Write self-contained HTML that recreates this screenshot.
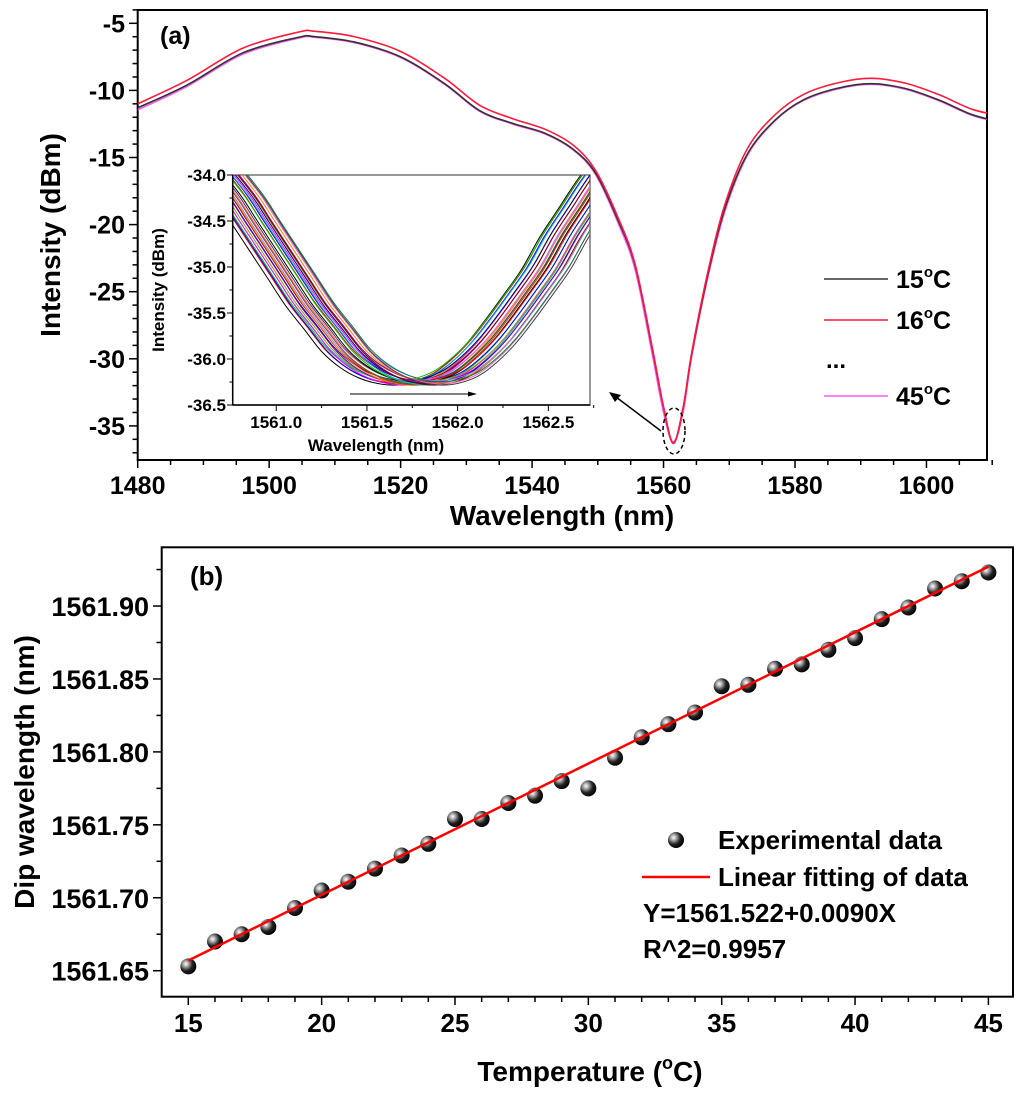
<!DOCTYPE html>
<html><head><meta charset="utf-8"><style>
html,body{margin:0;padding:0;background:#fff}
svg{display:block;font-family:"Liberation Sans",Arial,sans-serif;font-weight:bold}
</style></head><body>
<svg id="fig" width="1024" height="1096" viewBox="0 0 1024 1096" xmlns="http://www.w3.org/2000/svg">
<defs>
<radialGradient id="ball" cx="0.35" cy="0.35" r="0.7">
<stop offset="0" stop-color="#fff"/><stop offset="0.25" stop-color="#aaa"/><stop offset="0.6" stop-color="#222"/><stop offset="1" stop-color="#000"/>
</radialGradient>
<clipPath id="clipA"><rect x="137.7" y="10" width="849.3" height="450"/></clipPath>
<clipPath id="clipI"><rect x="232.7" y="175" width="357.3" height="230"/></clipPath>
<clipPath id="clipB"><rect x="161.7" y="547.3" width="851.3" height="449.4"/></clipPath>
</defs>
<g id="panelA"></g>
<g id="inset"></g>
<g id="panelB"></g>
</svg>
<script>
// ===== Panel (a) data =====
const specWl = [1480,1487.5,1496,1504.5,1507,1513,1520,1526.7,1532,1537,1542,1546.3,1549.7,1553.1,1555.7,1558.3,1560,1561.5,1563,1564.3,1566.8,1569.4,1572.8,1577,1581.3,1586.4,1591.5,1596.7,1601.8,1606.9,1610.9];
const spec15 = [-11.3,-9.6,-7.2,-6.04,-6.0,-6.4,-7.5,-9.5,-11.5,-12.45,-13.2,-14.4,-16.2,-19.7,-23.1,-29.3,-33.6,-36.3,-33.6,-29.6,-23.6,-18.7,-14.7,-12.2,-10.7,-9.85,-9.5,-9.85,-10.7,-11.8,-12.3];
const spec16 = [-11.0,-9.25,-6.85,-5.65,-5.6,-6.0,-7.1,-9.1,-11.1,-12.1,-12.9,-14.1,-16.0,-19.5,-23.0,-29.2,-33.6,-36.3,-33.6,-29.5,-23.4,-18.4,-14.3,-11.8,-10.3,-9.45,-9.1,-9.45,-10.3,-11.4,-11.85];
const spec45 = [-11.45,-9.7,-7.3,-6.1,-6.05,-6.45,-7.55,-9.55,-11.55,-12.5,-13.25,-14.45,-16.3,-19.9,-23.4,-29.7,-34.0,-36.2,-33.9,-29.8,-23.8,-18.9,-14.8,-12.25,-10.75,-9.9,-9.55,-9.9,-10.75,-11.85,-12.35];
const aXTicks = [1480,1500,1520,1540,1560,1580,1600];
const aYTicks = [-35,-30,-25,-20,-15,-10,-5];
// ===== Inset data =====
const temps = [15,16,17,18,19,20,21,22,23,24,25,26,27,28,29,30,31,32,33,34,35,36,37,38,39,40,41,42,43,44,45];
const dipWl = [1561.653,1561.670,1561.675,1561.680,1561.693,1561.705,1561.711,1561.720,1561.729,1561.737,1561.754,1561.754,1561.765,1561.770,1561.780,1561.775,1561.796,1561.810,1561.819,1561.827,1561.845,1561.846,1561.857,1561.860,1561.870,1561.878,1561.891,1561.899,1561.912,1561.917,1561.923];
const profOffset = [-1.3,-1.2,-1.0,-0.9,-0.8,-0.7,-0.6,-0.5,-0.4,-0.3,-0.2,-0.1,0,0.1,0.2,0.3,0.4,0.5,0.6,0.7,0.8,0.9,1.0,1.2,1.3];
const profLevel = [-33.4,-33.7,-34.2,-34.5,-34.8,-35.1,-35.4,-35.65,-35.9,-36.07,-36.18,-36.24,-36.26,-36.23,-36.15,-36.0,-35.8,-35.55,-35.28,-35.0,-34.65,-34.35,-34.05,-33.5,-33.2];
const iXTicks = [1561.0,1561.5,1562.0,1562.5];
const iYTicks = [-34.0,-34.5,-35.0,-35.5,-36.0,-36.5];
// ===== Panel (b) data =====
const bXTicks = [15,20,25,30,35,40,45];
const bYTicks = [1561.65,1561.70,1561.75,1561.80,1561.85,1561.90];
const fitIntercept = 1561.522;
const fitSlope = 0.0090;

const NS="http://www.w3.org/2000/svg";
function mk(parent,tag,attrs,text){const e=document.createElementNS(NS,tag);for(const k in attrs)e.setAttribute(k,attrs[k]);if(text!==undefined)e.textContent=text;parent.appendChild(e);return e;}
function smooth(pts){let d="M"+pts[0][0].toFixed(2)+","+pts[0][1].toFixed(2);
 for(let i=0;i<pts.length-1;i++){const p0=pts[i-1]||pts[i],p1=pts[i],p2=pts[i+1],p3=pts[i+2]||p2;
 const c1=[p1[0]+(p2[0]-p0[0])/6,p1[1]+(p2[1]-p0[1])/6],c2=[p2[0]-(p3[0]-p1[0])/6,p2[1]-(p3[1]-p1[1])/6];
 d+=" C"+c1[0].toFixed(2)+","+c1[1].toFixed(2)+" "+c2[0].toFixed(2)+","+c2[1].toFixed(2)+" "+p2[0].toFixed(2)+","+p2[1].toFixed(2);}return d;}

// ---- Panel A ----
const A=document.getElementById('panelA');
const ax=v=>137.7+(v-1480)*6.573, ay=v=>23.3+(-5-v)*13.42;
const aFrame=mk(A,'rect',{x:137.7,y:10,width:849.3,height:450,fill:'none',stroke:'#000','stroke-width':2});


for(let v=1480;v<=1610;v+=5){const t=mk(A,'line',{x1:ax(v),x2:ax(v),y1:460,y2:v%20===0?468:465,stroke:'#000','stroke-width':1.5});

}
for(let v=-37;v<=-4;v+=1){const t=mk(A,'line',{x1:137.7,x2:v%5===0?129:132.5,y1:ay(v),y2:ay(v),stroke:'#000','stroke-width':1.5});

}
aXTicks.forEach(v=>{const t=mk(A,'text',{x:ax(v),y:494,'text-anchor':'middle','font-size':25},String(v));

});
aYTicks.forEach(v=>{const t=mk(A,'text',{x:125,y:ay(v)+9,'text-anchor':'end','font-size':25},String(v));

});
let tt=mk(A,'text',{x:562,y:525,'text-anchor':'middle','font-size':28},'Wavelength (nm)');


tt=mk(A,'text',{x:0,y:0,'text-anchor':'middle','font-size':28,transform:'translate(60,235) rotate(-90)'},'Intensity (dBm)');


tt=mk(A,'text',{x:160,y:44,'font-size':25},'(a)');


const gA=mk(A,'g',{'clip-path':'url(#clipA)'});
[[spec45,'#ff55ff'],[spec15,'#333'],[spec16,'#ff1a3c']].forEach(([arr,c])=>{
 const p=mk(gA,'path',{d:smooth(specWl.map((w,i)=>[ax(w),ay(arr[i])])),fill:'none',stroke:c,'stroke-width':1.6});
 
 });
const ell=mk(A,'ellipse',{cx:674,cy:431,rx:11,ry:23,fill:'none',stroke:'#000','stroke-width':1.5,'stroke-dasharray':'4,3'});


const arr1=mk(A,'line',{x1:661,y1:431,x2:616,y2:397,stroke:'#000','stroke-width':1.5});


mk(A,'polygon',{points:'609,392 621,395 615,402',fill:'#000'});
// legend a
const legA=[[279,'#333','15'],[320,'#ff1a3c','16'],[396,'#ff55ff','45']];
legA.forEach(([y,c,t])=>{const l=mk(A,'line',{x1:824,x2:888,y1:y,y2:y,stroke:c,'stroke-width':1.6});


const tx=mk(A,'text',{x:896,y:y+9,'font-size':25});


mk(tx,'tspan',{},t);mk(tx,'tspan',{dy:-11,'font-size':15},'o');mk(tx,'tspan',{dy:11},'C');});
tt=mk(A,'text',{x:826,y:368,'font-size':24},'...');



// ---- Inset ----
const I=document.getElementById('inset');
const ix=v=>232.7+(v-1560.76)*181.4, iy=v=>175+(-34-v)*92;
mk(I,'rect',{x:232.7,y:175,width:357.3,height:230,fill:'#fff',stroke:'#777','stroke-width':1.5});
const palette=['#000','#ff0000','#00cc00','#0000ff','#00bbbb','#ff00ff','#999900','#000080','#8000c0','#800000','#ff8000','#8080ff','#ff60c0','#008040','#404040','#c04000'];
const gI=mk(I,'g',{'clip-path':'url(#clipI)'});
dipWl.forEach((d,k)=>{const p=mk(gI,'path',{d:smooth(profOffset.map((o,i)=>[ix(d+o),iy(profLevel[i]+((k*7)%5-2)*0.012)])),fill:'none',stroke:palette[k%palette.length],'stroke-width':1});
 
 });
mk(I,'line',{x1:232.7,x2:232.7,y1:175,y2:405,stroke:'#000','stroke-width':1.5});
mk(I,'line',{x1:232.7,x2:590,y1:405,y2:405,stroke:'#000','stroke-width':1.5});
for(let v=1560.75;v<=1562.75;v+=0.25){if(v<1560.76)continue;mk(I,'line',{x1:ix(v),x2:ix(v),y1:405,y2:Math.abs(v*2-Math.round(v*2))<1e-6?411:408,stroke:'#000','stroke-width':1});}
for(let v=-36.5;v<=-34;v+=0.25){mk(I,'line',{x1:232.7,x2:Math.abs(v*2-Math.round(v*2))<1e-6?227:229.5,y1:iy(v),y2:iy(v),stroke:'#000','stroke-width':1});}
iXTicks.forEach(v=>{const t=mk(I,'text',{x:ix(v),y:428,'text-anchor':'middle','font-size':17},v.toFixed(1));

});
iYTicks.forEach(v=>{const t=mk(I,'text',{x:226,y:iy(v)+6,'text-anchor':'end','font-size':17},v.toFixed(1));

});
tt=mk(I,'text',{x:376,y:451,'text-anchor':'middle','font-size':17},'Wavelength (nm)');


tt=mk(I,'text',{x:0,y:0,'text-anchor':'middle','font-size':17,transform:'translate(164,290) rotate(-90)'},'Intensity (dBm)');


const ia=mk(I,'line',{x1:350,x2:472,y1:394,y2:394,stroke:'#000','stroke-width':1});


mk(I,'polygon',{points:'477,394 468,391.5 468,396.5',fill:'#000'});

// ---- Panel B ----
const B=document.getElementById('panelB');
const bx=v=>188.3+(v-15)*26.67, by=v=>970.7-(v-1561.65)*1458.7;
const bFrame=mk(B,'rect',{x:161.7,y:547.3,width:851.3,height:449.4,fill:'none',stroke:'#000','stroke-width':2});


for(let v=15;v<=45;v++){const t=mk(B,'line',{x1:bx(v),x2:bx(v),y1:996.7,y2:v%5===0?1005:1002,stroke:'#000','stroke-width':1.5});

}
for(let i=0;i<=12;i++){const v=1561.625+i*0.025;if(by(v)<547||by(v)>997)continue;const major=i%2===1;const t=mk(B,'line',{x1:161.7,x2:major?153:156.5,y1:by(v),y2:by(v),stroke:'#000','stroke-width':1.5});

}
bXTicks.forEach(v=>{const t=mk(B,'text',{x:bx(v),y:1032,'text-anchor':'middle','font-size':26},String(v));

});
bYTicks.forEach(v=>{const t=mk(B,'text',{x:149,y:by(v)+10,'text-anchor':'end','font-size':27},v.toFixed(2));

});
tt=mk(B,'text',{x:590,y:1081,'text-anchor':'middle','font-size':28});


mk(tt,'tspan',{},'Temperature (');mk(tt,'tspan',{dy:-12,'font-size':18},'o');mk(tt,'tspan',{dy:12},'C)');
tt=mk(B,'text',{x:0,y:0,'text-anchor':'middle','font-size':28,transform:'translate(34,772) rotate(-90)'},'Dip wavelength (nm)');


tt=mk(B,'text',{x:190,y:585,'font-size':26},'(b)');


const gB=mk(B,'g',{'clip-path':'url(#clipB)'});
temps.forEach((t,i)=>{const c=mk(gB,'circle',{cx:bx(t),cy:by(dipWl[i]),r:8,fill:'url(#ball)'});

});
const fx0=temps[0], fx1=temps[temps.length-1];
const fit=mk(gB,'line',{x1:bx(fx0),y1:by(fitIntercept+fitSlope*fx0),x2:bx(fx1),y2:by(fitIntercept+fitSlope*fx1),stroke:'#ff0000','stroke-width':2.5});


// legend b
const lb=mk(B,'circle',{cx:676,cy:840,r:8,fill:'url(#ball)'});


tt=mk(B,'text',{x:718,y:849,'font-size':26},'Experimental data');


const ll=mk(B,'line',{x1:642,x2:710,y1:877,y2:877,stroke:'#ff0000','stroke-width':2.5});


tt=mk(B,'text',{x:718,y:886,'font-size':26},'Linear fitting of data');


tt=mk(B,'text',{x:643,y:922,'font-size':26},'Y=1561.522+0.0090X');


tt=mk(B,'text',{x:643,y:958,'font-size':26},'R^2=0.9957');


</script>
</body></html>
